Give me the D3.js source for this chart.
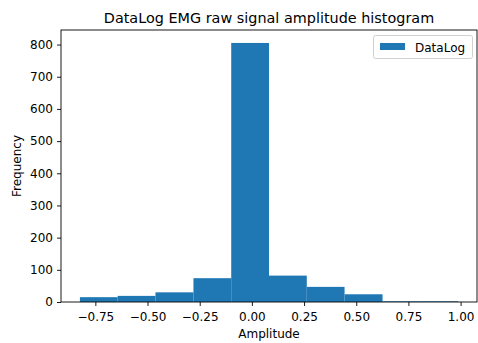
<!DOCTYPE html>
<html lang="en">
<head>
  <meta charset="UTF-8">
  <title>DataLog EMG histogram</title>
  <script src="https://d3js.org/d3.v7.min.js"></script>
  <style>
    body { margin: 0; background: #fff; }
    text { font-family: "DejaVu Sans", sans-serif; fill: #000; }
  </style>
</head>
<body>
<div id="chart"></div>
<script>
  // Data: 10 bins
  const binEdges = [-0.824, -0.643, -0.462, -0.280, -0.099, 0.082, 0.263, 0.444, 0.626, 0.807, 0.988];
  const counts = [15, 19, 30, 74, 805, 82, 47, 24, 2, 2];
  const xTicks = [-0.75, -0.50, -0.25, 0.00, 0.25, 0.50, 0.75, 1.00];
  const yTicks = [0, 100, 200, 300, 400, 500, 600, 700, 800];
  const seriesName = "DataLog";

  const width = 478, height = 343;
  const margin = { top: 30, right: 1, bottom: 41, left: 61 };
  const color = "#1f77b4";
  const tickFont = "12px";

  const svg = d3.select("#chart").append("svg")
    .attr("width", width)
    .attr("height", height);

  const bins = counts.map((c, i) => ({ x0: binEdges[i], x1: binEdges[i + 1], count: c }));

  // matplotlib style 5% padding on x, 5% on top of y
  const xMin = binEdges[0], xMax = binEdges[binEdges.length - 1];
  const pad = (xMax - xMin) * 0.05;
  const x = d3.scaleLinear()
    .domain([xMin - pad, xMax + pad])
    .range([margin.left, width - margin.right]);

  const y = d3.scaleLinear()
    .domain([0, d3.max(counts) * 1.05])
    .range([height - margin.bottom, margin.top]);

  // bars
  svg.append("g")
    .selectAll("rect")
    .data(bins)
    .join("rect")
    .attr("x", d => x(d.x0))
    .attr("width", d => x(d.x1) - x(d.x0))
    .attr("y", d => y(d.count))
    .attr("height", d => y(0) - y(d.count))
    .attr("fill", color);

  // axes
  const xAxis = svg.append("g")
    .attr("transform", `translate(0,${height - margin.bottom})`)
    .call(d3.axisBottom(x).tickValues(xTicks).tickFormat(d3.format(".2f")).tickSize(4).tickPadding(6));

  const yAxis = svg.append("g")
    .attr("transform", `translate(${margin.left},0)`)
    .call(d3.axisLeft(y).tickValues(yTicks).tickFormat(d3.format("d")).tickSize(4).tickPadding(4));

  [xAxis, yAxis].forEach(g => {
    g.select(".domain").remove();
    g.selectAll("line").attr("stroke", "#000").attr("stroke-width", 0.9);
    g.selectAll("text").style("font-size", tickFont).attr("fill", "#000")
      .style("font-family", "DejaVu Sans, sans-serif");
  });
  // use a real minus sign like matplotlib
  xAxis.selectAll("text").text(d => d3.format(".2f")(d).replace("-", "\u2212"));

  // spines (frame)
  svg.append("rect")
    .attr("x", margin.left)
    .attr("y", margin.top)
    .attr("width", width - margin.right - margin.left)
    .attr("height", height - margin.bottom - margin.top)
    .attr("fill", "none")
    .attr("stroke", "#000")
    .attr("stroke-width", 0.9);

  // title & labels
  const cx = (margin.left + width - margin.right) / 2;
  svg.append("text")
    .attr("x", cx)
    .attr("y", 22.5)
    .attr("text-anchor", "middle")
    .style("font-size", "14.4px")
    .text("DataLog EMG raw signal amplitude histogram");

  svg.append("text")
    .attr("x", cx)
    .attr("y", 337.5)
    .attr("text-anchor", "middle")
    .style("font-size", tickFont)
    .text("Amplitude");

  svg.append("text")
    .attr("transform", `translate(20.5,${(margin.top + height - margin.bottom) / 2}) rotate(-90)`)
    .attr("text-anchor", "middle")
    .style("font-size", tickFont)
    .text("Frequency");

  // legend
  const legend = svg.append("g").attr("transform", "translate(373.5,35.5)");
  legend.append("rect")
    .attr("width", 99)
    .attr("height", 23)
    .attr("rx", 2)
    .attr("fill", "#fff")
    .attr("fill-opacity", 0.8)
    .attr("stroke", "#ccc")
    .attr("stroke-width", 0.9);
  legend.append("rect")
    .attr("x", 6.5)
    .attr("y", 7.5)
    .attr("width", 25)
    .attr("height", 7)
    .attr("fill", color);
  legend.append("text")
    .attr("x", 41.5)
    .attr("y", 16)
    .style("font-size", tickFont)
    .text(seriesName);
</script>
</body>
</html>
